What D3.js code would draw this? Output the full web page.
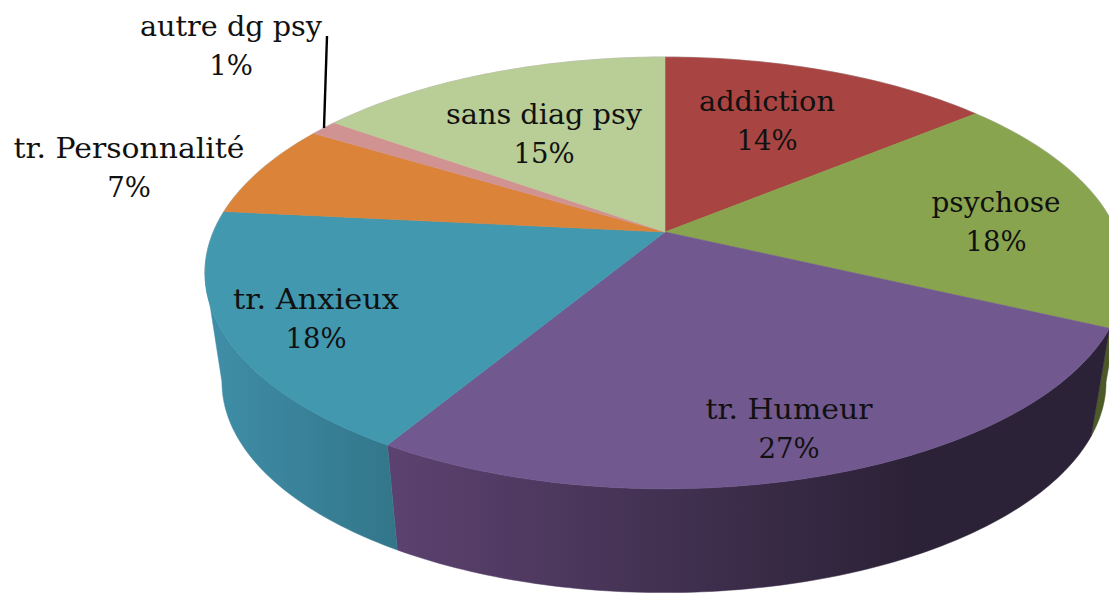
<!DOCTYPE html>
<html><head><meta charset="utf-8">
<script src="https://cdn.jsdelivr.net/npm/d3@7"></script>
<style>html,body{margin:0;padding:0;background:#fff;overflow:hidden}
svg{display:block}text{font-family:"DejaVu Serif",serif;fill:#111;text-anchor:middle}</style>
</head><body><svg id="c" width="1109" height="593"></svg>
<script>
const categories=["addiction","psychose","tr. Humeur","tr. Anxieux","tr. Personnalité","autre dg psy","sans diag psy"];
const values=[14,18,26.6,18,7.1,1.2,15.1];
const topColors=["#a84442","#89a44e","#71588f","#4198af","#da8339","#d19392","#b9cd96"];
const wallFrom=["#7a2f2e","#4e5c28","#5c4270","#3f8ea8","#a8622a","#9a6c6c","#8a9a70"];
const wallTo=["#7a2f2e","#485624","#2c2237","#33768a","#a8622a","#9a6c6c","#8a9a70"];
const labelAnchors=[[767,111],[996,212],[789,419],[316,309],[129,158],[231,36],[544,124]];
const labelWidths=[136,129,167,166,231,182,196];
const fontSize=27.5, lineGap=38.5;

const svg=d3.select("#c"), defs=svg.append("defs");
const cx=665,cy=232,k=.19;
const project=(th,R,S,ox,oy)=>{const u=Math.sin(th),v=-Math.cos(th),w=1-k*v;return [ox+R*u/w,oy+S*v/w];};
const topP=th=>project(th,451.6,208,cx,cy);
const botP=th=>project(th,434,203,cx-1,342);
const line=d3.line();
const arcs=d3.pie().sort(null).value(d=>d)(values);
const samples=(a,b)=>{const n=Math.max(2,Math.ceil((b-a)*60));return d3.range(n+1).map(i=>a+(b-a)*i/n);};
// the visible wall runs along the front of the ellipse, from its rightmost to its leftmost point
const wallA=Math.PI-Math.acos(k), wallB=Math.PI+Math.acos(k);

const gw=svg.append("g");
arcs.forEach((d,i)=>{
  const a=Math.max(d.startAngle,wallA), b=Math.min(d.endAngle,wallB);
  if(b<=a) return;
  const id="w"+i;
  const g=defs.append("linearGradient").attr("id",id).attr("x1",0).attr("x2",1).attr("y1",0).attr("y2",0);
  g.append("stop").attr("offset",0).attr("stop-color",wallFrom[i]);
  if(i===2) g.append("stop").attr("offset",.72).attr("stop-color",wallTo[i]);
  g.append("stop").attr("offset",1).attr("stop-color",wallTo[i]);
  const s=samples(a,b);
  const pts=s.map(topP).concat(s.slice().reverse().map(botP));
  gw.append("path").attr("d",line(pts)+"Z").attr("fill",`url(#${id})`).attr("stroke",`url(#${id})`).attr("stroke-width",.5);
});

// thin grey rim along the back edge
svg.append("path").attr("d",line(samples(wallB,wallA+2*Math.PI).map(topP)))
  .attr("fill","none").attr("stroke","#999").attr("stroke-opacity",.6).attr("stroke-width",1.4);

const gt=svg.append("g");
arcs.forEach((d,i)=>{
  const pts=[[cx,cy]].concat(samples(d.startAngle,d.endAngle).map(topP));
  gt.append("path").attr("d",line(pts)+"Z").attr("fill",topColors[i]).attr("stroke",topColors[i]).attr("stroke-width",.6);
});

svg.append("line").attr("x1",327).attr("y1",36).attr("x2",324).attr("y2",128).attr("stroke","#000").attr("stroke-width",2.4);

const total=d3.sum(values);
categories.forEach((c,i)=>{
  const [x,y]=labelAnchors[i];
  const t=svg.append("text").attr("font-size",fontSize);
  t.append("tspan").attr("x",x).attr("y",y).attr("textLength",labelWidths[i]).attr("lengthAdjust","spacingAndGlyphs").text(c);
  t.append("tspan").attr("x",x).attr("y",y+lineGap).text(Math.round(values[i]/total*100)+"%");
});
</script></body></html>
